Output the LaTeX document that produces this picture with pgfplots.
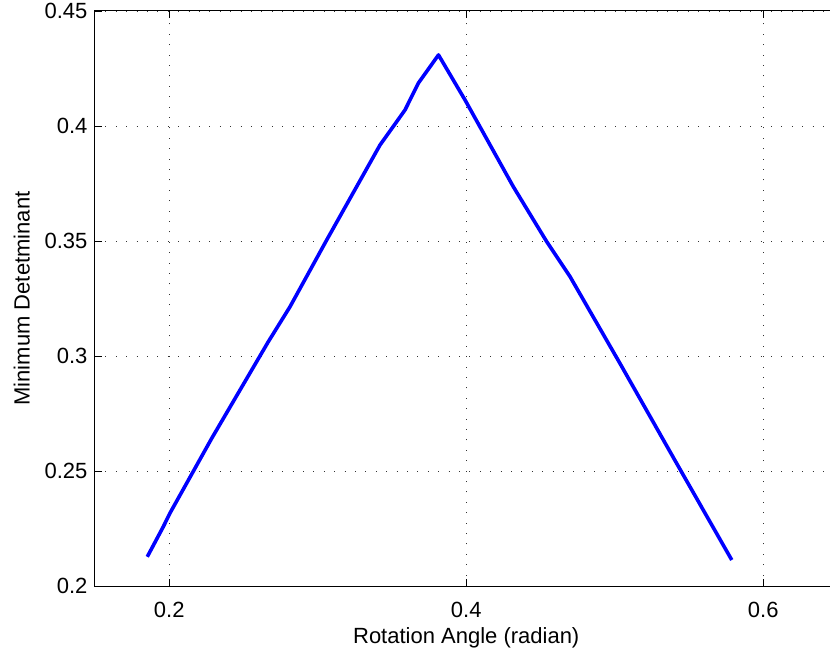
\documentclass[border=0pt]{standalone}
\usepackage{fontspec}
\setmainfont{Liberation Sans}
\usepackage{pgfplots}
\pgfplotsset{compat=1.18}
\begin{document}
\fontsize{22pt}{26pt}\selectfont
\begin{tikzpicture}
\begin{axis}[
  scale only axis,
  width=742.5pt, height=575pt,
  at={(0,0)}, anchor=south west,
  xmin=0.15, xmax=0.65,
  ymin=0.2, ymax=0.45,
  axis line style={line width=1pt},
  xtick={0.2,0.4,0.6}, xticklabels={0.2,0.4,0.6},
  ytick={0.2,0.25,0.3,0.35,0.4,0.45},
  yticklabels={0.2,0.25,0.3,0.35,0.4,0.45},
  tick align=inside, major tick length=7.5pt,
  tick style={black, line width=0.8pt},
  grid=major,
  major grid style={black!80, line width=0.7pt, dash pattern=on 1pt off 9.4pt},
  xticklabel style={font=\fontsize{22pt}{26pt}\selectfont, yshift=-9pt},
  yticklabel style={font=\fontsize{22pt}{26pt}\selectfont},
  xlabel={Rotation Angle (radian)},
  ylabel={Minimum Detetminant},
  label style={font=\fontsize{22pt}{26pt}\selectfont},
  xlabel style={yshift=5pt},
]
\addplot[blue, line width=3.6pt, line join=round] coordinates {
(0.1852,0.2127)
(0.1960,0.2258)
(0.2005,0.2317)
(0.2286,0.2642)
(0.2667,0.3062)
(0.2813,0.3214)
(0.3060,0.3504)
(0.3419,0.3917)
(0.3588,0.4070)
(0.3677,0.4186)
(0.3813,0.4309)
(0.3992,0.4113)
(0.4317,0.3736)
(0.4542,0.3497)
(0.4699,0.3345)
(0.5035,0.2968)
(0.5417,0.2533)
(0.5788,0.2113)
};
\end{axis}
\pgfresetboundingbox
\useasboundingbox (-95pt,-65pt) rectangle (735pt,586pt);
\end{tikzpicture}
\end{document}
